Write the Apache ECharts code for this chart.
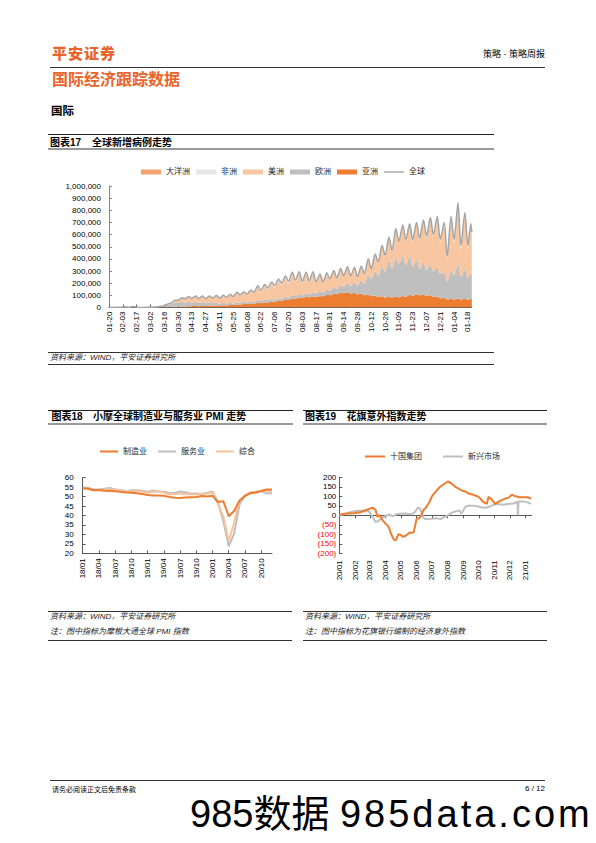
<!DOCTYPE html>
<html><head><meta charset="utf-8">
<script src="https://cdn.jsdelivr.net/npm/echarts@6/dist/echarts.min.js"></script>
<style>
html,body{margin:0;padding:0;background:#fff;}
body{width:596px;height:843px;position:relative;overflow:hidden;font-family:'Liberation Sans','Noto Sans CJK SC',sans-serif;color:#000;}
.t{position:absolute;white-space:nowrap;line-height:1;z-index:2;}
.ln{position:absolute;height:0;z-index:2;}
.src{font-size:8px;font-style:italic;color:#222;}
.ttl{font-size:10px;font-weight:bold;}
#chart{position:absolute;left:0;top:0;width:596px;height:843px;z-index:1;}
</style></head><body>
<div id="chart"></div>

<div class="t" style="left:52px;top:46px;font-size:15px;font-weight:900;color:#E8652B;letter-spacing:1px">平安证券</div>
<div class="t" style="right:51px;top:50px;font-size:9px;">策略 · 策略周报</div>
<div class="ln" style="left:50px;top:67px;width:495px;border-top:1.5px solid #333"></div>
<div class="t" style="left:52px;top:71.5px;font-size:16px;font-weight:bold;color:#E8652B">国际经济跟踪数据</div>
<div class="t" style="left:51px;top:106px;font-size:11.5px;font-weight:bold">国际</div>

<div class="ln" style="left:48px;top:134px;width:446px;border-top:1px solid #222"></div>
<div class="t ttl" style="left:50px;top:137.5px">图表17</div>
<div class="t ttl" style="left:92px;top:137.5px">全球新增病例走势</div>
<div class="ln" style="left:48px;top:148px;width:446px;border-top:2px solid #9a9a9a"></div>

<div class="ln" style="left:48px;top:352px;width:446px;border-top:1px solid #333"></div>
<div class="t src" style="left:50px;top:354px">资料来源：WIND，平安证券研究所</div>
<div class="ln" style="left:48px;top:364px;width:446px;border-top:1px solid #333"></div>

<div class="ln" style="left:48px;top:409.5px;width:245px;border-top:1px solid #222"></div>
<div class="t ttl" style="left:51.5px;top:412px">图表18</div>
<div class="t ttl" style="left:93px;top:412px">小摩全球制造业与服务业 PMI 走势</div>
<div class="ln" style="left:48px;top:422.5px;width:245px;border-top:2px solid #9a9a9a"></div>

<div class="ln" style="left:303px;top:409.5px;width:244px;border-top:1px solid #222"></div>
<div class="t ttl" style="left:305px;top:412px">图表19</div>
<div class="t ttl" style="left:346.5px;top:412px">花旗意外指数走势</div>
<div class="ln" style="left:303px;top:422.5px;width:244px;border-top:2px solid #9a9a9a"></div>

<div class="ln" style="left:48px;top:611px;width:244px;border-top:1px solid #333"></div>
<div class="t src" style="left:50px;top:613px">资料来源：WIND，平安证券研究所</div>
<div class="t src" style="left:50px;top:628px">注：图中指标为摩根大通全球 PMI 指数</div>
<div class="ln" style="left:48px;top:640px;width:244px;border-top:1px solid #333"></div>

<div class="ln" style="left:303px;top:611px;width:244px;border-top:1px solid #333"></div>
<div class="t src" style="left:305px;top:613px">资料来源：WIND，平安证券研究所</div>
<div class="t src" style="left:305px;top:628px">注：图中指标为花旗银行编制的经济意外指数</div>
<div class="ln" style="left:303px;top:640px;width:244px;border-top:1px solid #333"></div>

<div class="ln" style="left:50px;top:780px;width:495px;border-top:1px solid #333"></div>
<div class="t" style="left:52px;top:785.5px;font-size:7px">请务必阅读正文后免责条款</div>
<div class="t" style="right:51px;top:784.5px;font-size:8px">6 / 12</div>
<div class="t" style="left:190px;top:795px;font-size:38px;color:#000">985数据 <span style="letter-spacing:3px">985data.com</span></div>

<script>
// ---------- 图表17 全球新增病例 (单位: 千例) ----------
const caseStart = '2020-01-20';
const caseEnd = '2021-01-22';
const caseDates = [
 '2020-01-20','2020-01-24','2020-01-27','2020-01-31','2020-02-03','2020-02-07','2020-02-10','2020-02-14','2020-02-17','2020-02-21',
 '2020-02-24','2020-02-28','2020-03-02','2020-03-06','2020-03-09','2020-03-13','2020-03-16','2020-03-20','2020-03-23','2020-03-27',
 '2020-03-30','2020-04-03','2020-04-06','2020-04-10','2020-04-13','2020-04-17','2020-04-20','2020-04-24','2020-04-27','2020-05-01',
 '2020-05-04','2020-05-08','2020-05-11','2020-05-15','2020-05-18','2020-05-22','2020-05-25','2020-05-29','2020-06-01','2020-06-05',
 '2020-06-08','2020-06-12','2020-06-15','2020-06-19','2020-06-22','2020-06-26','2020-06-29','2020-07-03','2020-07-06','2020-07-10',
 '2020-07-13','2020-07-17','2020-07-20','2020-07-24','2020-07-27','2020-07-31','2020-08-03','2020-08-07','2020-08-10','2020-08-14',
 '2020-08-17','2020-08-21','2020-08-24','2020-08-28','2020-08-31','2020-09-04','2020-09-07','2020-09-11','2020-09-14','2020-09-18',
 '2020-09-21','2020-09-25','2020-09-28','2020-10-02','2020-10-05','2020-10-09','2020-10-12','2020-10-16','2020-10-19','2020-10-23',
 '2020-10-26','2020-10-30','2020-11-02','2020-11-06','2020-11-09','2020-11-13','2020-11-16','2020-11-20','2020-11-23','2020-11-27',
 '2020-11-30','2020-12-04','2020-12-07','2020-12-11','2020-12-14','2020-12-18','2020-12-21','2020-12-25','2020-12-28','2021-01-01',
 '2021-01-04','2021-01-08','2021-01-11','2021-01-15','2021-01-18','2021-01-21','2021-01-22'];
const asiaK = [
 0.3,0.5,1.8,2.1,3.2,3.4,2.5,9,2.0,0.8,
 0.6,0.8,1.2,1.5,1.3,1.8,2.5,3.5,4.0,5.5,
 6,8,8.5,10,10,12,11,13,12,14,
 14,16,15,18,17,20,20,24,24,28,
 28,32,32,37,36,42,42,47,48,54,
 55,62,62,72,72,80,78,86,84,90,
 88,95,92,102,100,112,110,122,118,125,
 115,120,108,115,100,108,92,98,85,92,
 80,88,80,90,82,95,88,102,96,110,
 100,108,95,100,88,90,75,78,65,72,
 65,75,65,72,62,70,68];
const europeK = [
 0,0,0,0,0,0,0,0,0,0,
 0,0.3,0.5,1.5,2.5,7,9,20,22,38,
 32,40,33,38,28,36,27,33,24,28,
 22,24,17,20,16,18,13,18,14,19,
 14,19,16,21,17,22,18,22,17,22,
 18,24,19,27,22,30,23,32,26,36,
 28,40,32,45,36,52,44,62,50,78,
 62,88,72,110,95,165,140,200,175,250,
 215,300,240,320,280,330,260,320,240,290,
 220,260,210,250,210,240,200,210,150,230,
 200,290,190,240,180,210,200];
const americasK = [
 0,0,0,0,0,0,0,0,0,0,
 0,0,0.1,0.2,0.5,1.1,2.3,6.0,11.35,15.55,
 20.9,30.7,29.3,40.65,35.7,45.45,35.45,46.95,33.95,50.45,
 39.45,54.95,42.95,58.45,48.45,67.45,52.45,77.45,61.45,76.45,
 61.45,85.95,68.95,111.95,76.95,113.95,87.95,125.8,99.8,141.7,
 109.7,154.6,115.6,171.5,113.5,167.3,99.5,157.5,97.6,156.6,
 83.7,129.7,77.8,128.8,91.9,132.9,84.9,128.9,91.9,125.9,
 77.9,115.9,69.9,108.9,79.9,120.9,82.9,135.9,108.9,160.9,
 127.9,183.9,141.9,230.9,173.9,244.9,201.9,256.9,212.9,287.9,
 237.9,337.9,270.9,373.9,285.9,400.9,265.9,389.9,184.9,422.9,
 269.9,464.9,226.9,437.9,239.9,381.9,324.9];
const africaK = [
 0,0,0,0,0,0,0,0,0,0,
 0,0,0,0,0,0.05,0.1,0.3,0.4,0.6,
 0.8,1.0,1.0,1.2,1.2,1.5,1.5,2.0,2.0,2.5,
 2.5,3.0,3.0,3.5,3.5,4.5,4.5,5.5,5.5,6.5,
 6.5,8,8,10,10,12,12,15,15,17,
 17,19,18,19,17,17,14,14,12,12,
 10,10,8,9,7,8,6,7,5,6,
 5,6,5,6,5,6,5,6,6,7,
 7,8,8,9,9,10,10,11,11,12,
 12,14,14,16,16,19,19,22,20,25,
 25,30,28,30,28,28,27];
const oceaniaK = [
 0,0,0,0,0,0,0,0,0,0,
 0,0,0,0,0,0.05,0.1,0.2,0.25,0.35,
 0.3,0.3,0.2,0.15,0.1,0.05,0.05,0.05,0.05,0.05,
 0.05,0.05,0.05,0.05,0.05,0.05,0.05,0.05,0.05,0.05,
 0.05,0.05,0.05,0.05,0.05,0.05,0.05,0.2,0.2,0.3,
 0.3,0.4,0.4,0.5,0.5,0.7,0.5,0.5,0.4,0.4,
 0.3,0.3,0.2,0.2,0.1,0.1,0.1,0.1,0.1,0.1,
 0.1,0.1,0.1,0.1,0.1,0.1,0.1,0.1,0.1,0.1,
 0.1,0.1,0.1,0.1,0.1,0.1,0.1,0.1,0.1,0.1,
 0.1,0.1,0.1,0.1,0.1,0.1,0.1,0.1,0.1,0.1,
 0.1,0.1,0.1,0.1,0.1,0.1,0.1];
const globalK = [
 0.3,0.5,1.8,2.1,3.2,3.4,2.5,9,2.0,0.8,
 0.6,1.1,1.8,3.2,4.3,10,14,30,38,60,
 60,80,72,90,75,95,75,95,72,95,
 78,98,78,100,85,110,90,125,105,130,
 110,145,125,180,140,190,160,210,180,235,
 200,260,215,290,225,295,215,290,220,295,
 210,275,210,285,235,305,245,320,265,335,
 260,330,255,340,280,400,320,440,375,510,
 430,580,470,650,545,680,560,690,560,700,
 570,720,590,740,600,750,560,700,420,750,
 560,860,510,780,510,690,620];
const caseNames = ['大洋洲','非洲','美洲','欧洲','亚洲','全球'];
const caseYMax = 1000000, caseYStep = 100000;

// ---------- 图表18 小摩全球 PMI ----------
const pmiMonths = ['18/01','18/02','18/03','18/04','18/05','18/06','18/07','18/08','18/09','18/10','18/11','18/12',
 '19/01','19/02','19/03','19/04','19/05','19/06','19/07','19/08','19/09','19/10','19/11','19/12',
 '20/01','20/02','20/03','20/04','20/05','20/06','20/07','20/08','20/09','20/10','20/11','20/12'];
const pmiMfg = [54.4,54.2,53.4,53.5,53.1,53.0,52.8,52.5,52.2,52.0,51.8,51.4,50.8,50.6,50.6,50.4,49.8,49.4,49.3,49.5,49.7,49.8,50.3,50.1,50.4,47.2,47.6,39.6,42.4,47.9,50.3,51.8,52.3,53.0,53.8,53.8];
const pmiSvc = [54.8,54.5,53.8,53.8,54.1,54.6,53.7,53.5,52.9,53.4,53.4,53.1,52.6,53.3,52.7,52.6,52.0,51.9,52.7,52.3,51.6,51.6,51.4,51.9,52.7,47.1,37.0,23.7,30.4,45.9,50.5,52.0,51.9,52.9,51.6,51.8];
const pmiComp = [54.6,54.1,53.3,53.5,53.8,54.0,53.7,53.0,52.8,53.0,53.0,52.7,52.1,52.6,52.8,52.1,51.2,51.2,51.7,51.3,51.2,51.3,51.5,51.7,52.2,46.1,39.4,26.2,36.3,47.8,50.8,52.4,52.1,53.1,53.1,52.7];
const pmiNames = ['制造业','服务业','综合'];

// ---------- 图表19 花旗意外指数 ----------
const citiStart = '2020-01-01';
const citiEnd = '2021-01-13';
const g10Dates = ['2020-01-01','2020-01-10','2020-01-20','2020-02-01','2020-02-10','2020-02-20','2020-03-01','2020-03-06','2020-03-12','2020-03-16',
 '2020-03-20','2020-03-26','2020-04-01','2020-04-07','2020-04-12','2020-04-17','2020-04-21','2020-04-26','2020-05-01','2020-05-05',
 '2020-05-12','2020-05-18','2020-05-22','2020-05-26','2020-06-01','2020-06-06','2020-06-10','2020-06-15','2020-06-19','2020-06-26',
 '2020-07-01','2020-07-10','2020-07-17','2020-07-25','2020-08-01','2020-08-07','2020-08-16','2020-08-29','2020-09-05','2020-09-11',
 '2020-09-20','2020-10-01','2020-10-10','2020-10-17','2020-10-20','2020-10-26','2020-11-02','2020-11-08','2020-11-15','2020-11-22',
 '2020-11-29','2020-12-05','2020-12-12','2020-12-20','2020-12-28','2021-01-05','2021-01-12'];
const g10Vals = [2,8,10,12,15,25,35,40,30,-9,
 2,-26,-44,-61,-100,-128,-132,-100,-104,-114,
 -105,-91,-92,-90,-18,-15,0,30,40,70,
 100,130,150,165,178,170,150,130,125,115,
 108,97,70,60,97,85,60,70,80,88,
 93,109,100,95,95,95,88];
const emDates = ['2020-01-01','2020-01-10','2020-01-20','2020-02-01','2020-02-10','2020-02-20','2020-02-28','2020-03-03','2020-03-08','2020-03-12',
 '2020-03-18','2020-03-25','2020-04-01','2020-04-08','2020-04-15','2020-04-22','2020-05-01','2020-05-10','2020-05-20','2020-05-28',
 '2020-06-03','2020-06-08','2020-06-13','2020-06-18','2020-07-01','2020-07-10','2020-07-18','2020-07-25','2020-08-01','2020-08-10',
 '2020-08-18','2020-08-24','2020-08-28','2020-09-05','2020-09-10','2020-09-20','2020-09-28','2020-10-05','2020-10-15','2020-10-22',
 '2020-10-30','2020-11-08','2020-11-18','2020-11-28','2020-12-08','2020-12-16','2020-12-17','2020-12-18','2020-12-28','2021-01-05',
 '2021-01-12'];
const emVals = [0,5,15,22,24,20,22,5,-15,-35,
 -30,-10,-5,5,-5,5,8,10,5,15,
 40,35,-10,-20,-18,-15,-20,-10,0,15,
 22,25,10,45,50,50,48,42,40,45,
 55,60,55,60,62,70,0,72,72,68,
 60];
const citiNames = ['十国集团','新兴市场'];
const citiYMin = -200, citiYMax = 200, citiYStep = 50;

// ---------- helpers ----------
function dayRange(a, b) {
  const p = s => Date.UTC(+s.slice(0,4), +s.slice(5,7)-1, +s.slice(8,10));
  const out = []; let t = p(a); const e = p(b);
  while (t <= e) { out.push(new Date(t).toISOString().slice(0,10)); t += 86400000; }
  return out;
}
const caseDays = dayRange(caseStart, caseEnd);
const citiDays = dayRange(citiStart, citiEnd);
const pairs = (xs, ys, k) => xs.map((x, i) => [x, ys[i] * (k || 1)]);
const isMonthStart = (i, v) => v.slice(8) === '01';

const FONT = "'Liberation Sans','Noto Sans CJK SC',sans-serif";
const AXL = {fontFamily: FONT, fontSize: 8, color: '#000'};
const LEG = {fontFamily: FONT, fontSize: 8, color: '#262626'};
const C = {orange:'#ED7D31', peach:'#F8C6A0', gray:'#BFBFBF', light:'#E7E6E6', ocean:'#F4A36E', globe:'#A5A5A5', pmiComp:'#F7C29C'};
const LINE_ICON = 'path://M0,0L20,0L20,1.4L0,1.4Z';

const chart = echarts.init(document.getElementById('chart'), null, {renderer: 'svg'});

const areaSeries = (name, vals, color) => ({
  name, type: 'line', stack: 'cases', xAxisIndex: 0, yAxisIndex: 0, smooth: 0.3,
  data: pairs(caseDates, vals, 1000), symbol: 'none', showSymbol: false,
  lineStyle: {width: 0}, itemStyle: {color}, areaStyle: {color, opacity: 1}
});
const plainLine = (name, data, color, xi, w) => ({
  name, type: 'line', xAxisIndex: xi, yAxisIndex: xi, data, symbol: 'none', showSymbol: false,
  lineStyle: {width: w, color}, itemStyle: {color}
});

const option = {
  animation: false,
  textStyle: {fontFamily: FONT},
  grid: [
    {left: 109, top: 186, width: 362.8, height: 121.5},
    {left: 82.7, top: 477.7, width: 189.3, height: 75.6},
    {left: 339.3, top: 477.3, width: 192.4, height: 76}
  ],
  legend: [
    {left: 141, top: 168, padding: 0, itemWidth: 20, itemHeight: 5, itemGap: 6, textStyle: LEG, selectedMode: false,
     data: caseNames.map(n => ({name: n, icon: n === '全球' ? LINE_ICON : 'rect'}))},
    {left: 100, top: 447.5, padding: 0, itemWidth: 18, itemHeight: 2, itemGap: 11, icon: 'rect', textStyle: LEG, selectedMode: false, data: pmiNames},
    {left: 365, top: 452.5, padding: 0, itemWidth: 20, itemHeight: 2, itemGap: 21, icon: 'rect', textStyle: LEG, selectedMode: false, data: citiNames}
  ],
  xAxis: [
    {gridIndex: 0, type: 'category', data: caseDays, boundaryGap: false,
     axisLine: {lineStyle: {color: '#595959'}},
     axisTick: {interval: 13, inside: true, length: 3, lineStyle: {color: '#595959'}},
     axisLabel: Object.assign({}, AXL, {interval: 13, rotate: 90, margin: 4, formatter: v => v.slice(5)})},
    {gridIndex: 1, type: 'category', data: pmiMonths, boundaryGap: false,
     axisLine: {lineStyle: {color: '#595959'}},
     axisTick: {interval: 2, inside: true, length: 3, lineStyle: {color: '#595959'}},
     axisLabel: Object.assign({}, AXL, {interval: 2, rotate: 90, margin: 5})},
    {gridIndex: 2, type: 'category', data: citiDays, boundaryGap: false, position: 'bottom',
     axisLine: {show: false, onZero: false}, axisTick: {show: false},
     axisLabel: Object.assign({}, AXL, {interval: isMonthStart, rotate: 90, margin: 7,
       formatter: v => v.slice(2,4) + '/' + v.slice(5,7)})},
    {gridIndex: 2, type: 'category', data: citiDays, boundaryGap: false, position: 'bottom',
     axisLine: {show: true, onZero: true, lineStyle: {color: '#595959'}},
     axisTick: {show: true, interval: isMonthStart, length: 3, lineStyle: {color: '#595959'}},
     axisLabel: {show: false}}
  ],
  yAxis: [
    {gridIndex: 0, type: 'value', min: 0, max: caseYMax, interval: caseYStep,
     axisLine: {show: true, lineStyle: {color: '#868686'}},
     axisTick: {show: true, inside: true, length: 3, lineStyle: {color: '#868686'}},
     splitLine: {show: false},
     axisLabel: Object.assign({}, AXL, {margin: 8, formatter: v => v.toLocaleString('en-US')})},
    {gridIndex: 1, type: 'value', min: 20, max: 60, interval: 5,
     axisLine: {show: true, lineStyle: {color: '#595959'}},
     axisTick: {show: true, inside: true, length: 3, lineStyle: {color: '#595959'}},
     splitLine: {show: false},
     axisLabel: Object.assign({}, AXL, {margin: 9})},
    {gridIndex: 2, type: 'value', min: citiYMin, max: citiYMax, interval: citiYStep,
     axisLine: {show: true, lineStyle: {color: '#595959'}},
     axisTick: {show: true, inside: true, length: 3, lineStyle: {color: '#595959'}},
     splitLine: {show: false},
     axisLabel: Object.assign({}, AXL, {margin: 3,
       formatter: v => v < 0 ? '(' + (-v) + ')' : String(v),
       color: v => parseFloat(v) < 0 ? '#FF0000' : '#000'})}
  ],
  series: [
    areaSeries('亚洲', asiaK, C.orange),
    areaSeries('欧洲', europeK, C.gray),
    areaSeries('美洲', americasK, C.peach),
    areaSeries('非洲', africaK, C.light),
    areaSeries('大洋洲', oceaniaK, C.ocean),
    Object.assign(plainLine('全球', pairs(caseDates, globalK, 1000), C.globe, 0, 1.5), {smooth: 0.3}),
    plainLine('服务业', pmiSvc, C.gray, 1, 2),
    plainLine('综合', pmiComp, C.pmiComp, 1, 2),
    plainLine('制造业', pmiMfg, C.orange, 1, 2),
    plainLine('新兴市场', pairs(emDates, emVals), C.gray, 2, 2),
    plainLine('十国集团', pairs(g10Dates, g10Vals), C.orange, 2, 2)
  ]
};
chart.setOption(option);
</script>
</body></html>
